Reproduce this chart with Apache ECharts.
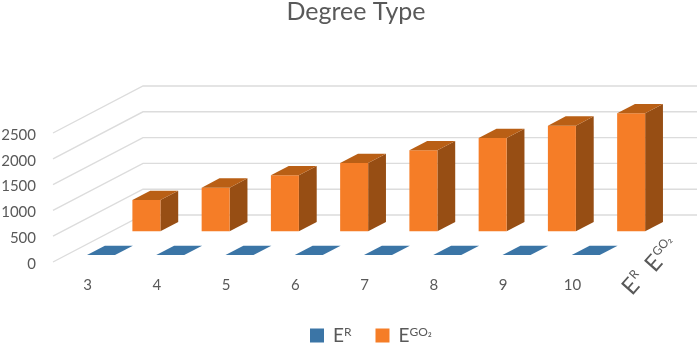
<!DOCTYPE html>
<html><head><meta charset="utf-8">
<script src="https://cdn.jsdelivr.net/npm/echarts@6/dist/echarts.min.js"></script>
<style>html,body{margin:0;padding:0;background:#fff}#c{width:699px;height:343px}</style>
</head><body><div id="c"></div>
<script>
const categories = ['3','4','5','6','7','8','9','10'];
const seriesNames = ['ER','EGO2'];
const valuesER = [0,0,0,0,0,0,0,0];
const valuesEGO2 = [607,846,1085,1324,1570,1809,2048,2287];
const yTicks = [0,500,1000,1500,2000,2500];

const TEXT = '#595959', FONT = 'Lato';
const DEPTH = {x:90, y:47};
const BAR_W = 28;
const ROW = {ER:{start:0.149, end:0.347}, EGO2:{start:0.653, end:0.851}};
const SHADE = {
  ER:{front:'#3b75a6', top:'#3b75a6', side:'#2b5a82'},
  EGO2:{front:'#f57d27', top:'#b95f15', side:'#974e14'}
};
const poly = (pts, fill) => ({type:'polygon', shape:{points:pts}, style:{fill, stroke:null}});

function box(name){
  const r = ROW[name], s = SHADE[name];
  return function(params, api){
    const top = api.coord([api.value(0), api.value(1)]);
    const base = api.coord([api.value(0), 0]);
    const fx = r.start*DEPTH.x, fy = r.start*DEPTH.y;
    const dx = (r.end-r.start)*DEPTH.x, dy = (r.end-r.start)*DEPTH.y;
    const l = base[0]+fx-BAR_W/2, R = l+BAR_W, b = base[1]-fy, t = top[1]-fy;
    const children = [];
    if (b-t > 0.5) {
      children.push(poly([[R,b],[R+dx,b-dy],[R+dx,t-dy],[R,t]], s.side));
      children.push(poly([[l,b],[R,b],[R,t],[l,t]], s.front));
    }
    children.push(poly([[l,t],[R,t],[R+dx,t-dy],[l+dx,t-dy]], s.top));
    return {type:'group', children};
  };
}
function wall(params, api){
  const y = api.coord([0, api.value(1)])[1];
  const c = params.coordSys;
  return {type:'polyline', shape:{points:[[c.x,y],[c.x+DEPTH.x,y-DEPTH.y],[c.x+c.width+DEPTH.x,y-DEPTH.y]]},
    style:{stroke:'#dcdcdc', lineWidth:1.4, fill:null}};
}
const richText = {
  b:{fontFamily:FONT,fontSize:19,color:TEXT,lineHeight:18,padding:[0,0,0,4]},
  s:{fontFamily:FONT,fontSize:12,color:TEXT,lineHeight:18,verticalAlign:'top'}
};
const labelOf = {ER:'{b|E}{s|R}', EGO2:'{b|E}{s|GO₂}'};
function depthLabel(x, y, sup){
  return {type:'group', x, y, rotation:0.85, z:10, children:[
    {type:'text', x:0, y:0, style:{text:'E', fontFamily:FONT, fontSize:23, fill:TEXT, align:'left', verticalAlign:'bottom'}},
    {type:'text', x:14, y:-11, style:{text:sup, fontFamily:FONT, fontSize:12, fill:TEXT, align:'left', verticalAlign:'bottom'}}
  ]};
}
const chart = echarts.init(document.getElementById('c'), null, {renderer:'canvas'});
chart.setOption({
  animation:false,
  backgroundColor:'#fff',
  title:{text:'Degree Type', left:351, top:-6, textAlign:'center',
    textStyle:{fontFamily:FONT,fontSize:25,fontWeight:'normal',color:TEXT}},
  legend:{left:310, top:321, itemWidth:14, itemHeight:14, itemGap:24, icon:'rect', data:seriesNames, padding:[5,0,0,0],
    formatter:n=>labelOf[n], textStyle:{rich:richText}},
  grid:{left:53, top:133, width:554, height:129, outerBoundsMode:'none'},
  xAxis:{type:'category', data:categories, axisLine:{show:false}, axisTick:{show:false}, splitLine:{show:false},
    axisLabel:{fontFamily:FONT,fontSize:15,color:TEXT,margin:16}},
  yAxis:{type:'value', min:0, max:2500, interval:500, axisLine:{show:false}, axisTick:{show:false}, splitLine:{show:false},
    axisLabel:{margin:17,formatter:v=>'{v|'+v+'}',rich:{v:{fontFamily:FONT,fontSize:15,color:TEXT,padding:[4,0,0,0]}}}},
  graphic:[ depthLabel(635,299,'R'), depthLabel(658,276,'GO₂') ],
  series:[
    {type:'custom', name:'walls', silent:true, renderItem:wall, data:yTicks.map(t=>[0,t]), encode:{x:0,y:1}, z:1},
    {type:'custom', name:'ER', renderItem:box('ER'), itemStyle:{color:SHADE.ER.front}, data:valuesER.map((v,i)=>[i,v]), encode:{x:0,y:1}, z:2},
    {type:'custom', name:'EGO2', renderItem:box('EGO2'), itemStyle:{color:SHADE.EGO2.front}, data:valuesEGO2.map((v,i)=>[i,v]), encode:{x:0,y:1}, z:3}
  ]
});
</script></body></html>
